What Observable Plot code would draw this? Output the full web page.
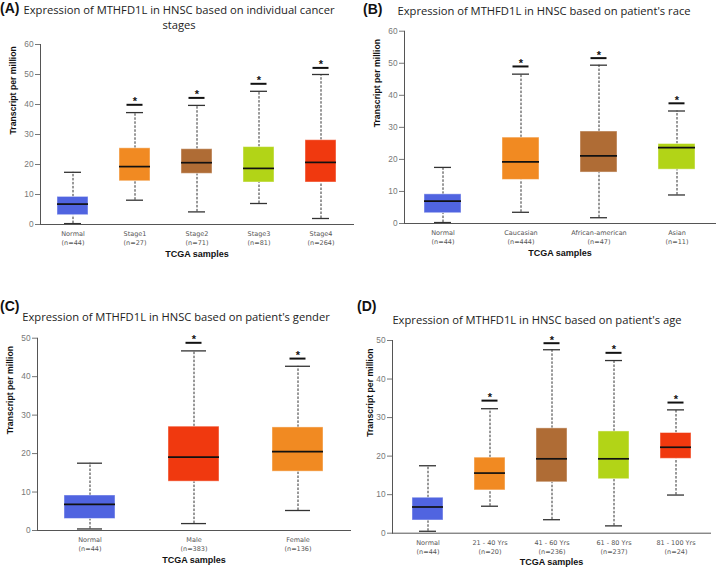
<!DOCTYPE html>
<html><head><meta charset="utf-8">
<script src="https://cdn.jsdelivr.net/npm/d3@7"></script>
<script src="https://cdn.jsdelivr.net/npm/@observablehq/plot@0.6"></script>
<style>
body{margin:0;background:#fff;width:720px;height:576px;position:relative;overflow:hidden;font-family:"Liberation Sans",Arial,sans-serif}
.panel{position:absolute}
.lbl{position:absolute;font-weight:bold;font-size:14px;color:#111;line-height:1}
.title{position:absolute;font-family:"Open Sans",sans-serif;font-size:11.2px;color:#222;text-align:center;white-space:nowrap;line-height:15px;transform:translate(-50%,-50%)}
</style></head><body>
<script>
// ---------- Data ----------
// Panel A: cancer stages
const catsA = ["Normal", "Stage1", "Stage2", "Stage3", "Stage4"];
const nA    = [44, 27, 71, 81, 264];
const lowA  = [0.3, 8.1, 4.2, 7.0, 2.0];
const q1A   = [3.1, 14.4, 16.9, 14.0, 14.0];
const medA  = [6.8, 19.3, 20.6, 18.7, 20.7];
const q3A   = [9.2, 25.4, 25.1, 25.8, 28.1];
const highA = [17.4, 37.3, 39.7, 44.4, 50.0];
const starA = [null, 39.9, 42.2, 46.9, 52.2];

// Panel B: race
const catsB = ["Normal", "Caucasian", "African-american", "Asian"];
const nB    = [44, 444, 47, 11];
const lowB  = [0.3, 3.5, 1.8, 8.9];
const q1B   = [3.2, 13.6, 15.9, 16.8];
const medB  = [7.0, 19.2, 21.1, 23.7];
const q3B   = [9.1, 26.8, 28.7, 24.8];
const highB = [17.5, 46.6, 49.4, 35.1];
const starB = [null, 49.0, 51.6, 37.5];

// Panel C: gender
const catsC = ["Normal", "Male", "Female"];
const nC    = [44, 383, 136];
const lowC  = [0.4, 1.8, 5.2];
const q1C   = [3.0, 12.7, 15.3];
const medC  = [6.8, 19.1, 20.5];
const q3C   = [9.1, 27.0, 26.8];
const highC = [17.5, 46.7, 42.7];
const starC = [null, 48.8, 44.7];

// Panel D: age
const catsD = ["Normal", "21 - 40 Yrs", "41 - 60 Yrs", "61 - 80 Yrs", "81 - 100 Yrs"];
const nD    = [44, 20, 236, 237, 24];
const lowD  = [0.5, 7.0, 3.5, 1.9, 9.9];
const q1D   = [3.3, 11.1, 13.2, 14.0, 19.3];
const medD  = [6.8, 15.6, 19.3, 19.3, 22.3];
const q3D   = [9.2, 19.6, 27.2, 26.4, 26.0];
const highD = [17.5, 32.3, 47.6, 44.8, 32.0];
const starD = [null, 34.4, 49.3, 46.8, 33.9];

const ticks60 = [0, 10, 20, 30, 40, 50, 60];
const ticks50 = [0, 10, 20, 30, 40, 50];

const titleA = "Expression of MTHFD1L in HNSC based on individual cancer<br>stages";
const titleB = "Expression of MTHFD1L in HNSC based on patient's race";
const titleC = "Expression of MTHFD1L in HNSC based on patient's gender";
const titleD = "Expression of MTHFD1L in HNSC based on patient's age";

// palette
const BLUE = "#5064E0", ORANGE = "#F18A22", BROWN = "#AF6C35", LIME = "#B2D417", RED = "#F0390F";

function rowsOf(cats, n, low, q1, med, q3, high, star) {
  return cats.map((c, i) => ({cat: c, n: n[i], low: low[i], q1: q1[i], med: med[i], q3: q3[i], high: high[i], star: star[i]}));
}

function panel(cfg) {
  const rows = cfg.rows;
  const starRows = rows.filter(d => d.star != null);
  const nMap = new Map(rows.map(d => [d.cat, d.n]));
  const cats = rows.map(d => d.cat);
  const chart = Plot.plot({
    width: cfg.width, height: cfg.height,
    marginTop: cfg.mt, marginBottom: cfg.mb, marginLeft: cfg.ml, marginRight: cfg.mr,
    style: {fontFamily: "Liberation Sans, Arial, sans-serif", background: "transparent", overflow: "visible"},
    x: {domain: cats, paddingInner: cfg.pi, paddingOuter: cfg.po, axis: null},
    y: {domain: [0, cfg.ymax], axis: null},
    color: {domain: cats, range: cfg.palette},
    marks: [
      Plot.axisY({ticks: cfg.yticks, tickSize: 5, tickPadding: 2, fontSize: 8.3, stroke: "#777", fill: "#777", label: null}),
      Plot.axisX({tickSize: 0, tickPadding: 5, fontSize: 6.5, fontFamily: "DejaVu Sans, sans-serif", fill: "#555", lineHeight: 1.4,
                  tickFormat: c => c + "\n(n=" + nMap.get(c) + ")", label: null}),
      Plot.ruleX(rows, {x: "cat", y1: "low", y2: "q1", stroke: "#333", strokeDasharray: "2.5,1.5"}),
      Plot.ruleX(rows, {x: "cat", y1: "q3", y2: "high", stroke: "#333", strokeDasharray: "2.5,1.5"}),
      Plot.tickY(rows, {x: "cat", y: "low", inset: cfg.capInset, stroke: "#333", strokeWidth: 1.3}),
      Plot.tickY(rows, {x: "cat", y: "high", inset: cfg.capInset, stroke: "#333", strokeWidth: 1.3}),
      Plot.barY(rows, {x: "cat", y1: "q1", y2: "q3", fill: "cat", stroke: "#fff", strokeOpacity: 0.45}),
      Plot.tickY(rows, {x: "cat", y: "med", stroke: "#111", strokeWidth: 1.7}),
      Plot.tickY(starRows, {x: "cat", y: "star", inset: cfg.starInset, stroke: "#111", strokeWidth: 2}),
      Plot.text(starRows, {x: "cat", y: "star", text: () => "*", fontSize: 11, fontWeight: "bold", fill: "#111", dy: -3}),
      Plot.frame({anchor: "left", stroke: "#555"}),
      Plot.frame({anchor: "bottom", stroke: "#555"}),
      Plot.text(["TCGA samples"], {text: d => d, frameAnchor: "bottom", dy: 32, fontWeight: "bold", fontSize: 9, fill: "#111"}),
      Plot.text(["Transcript per million"], {text: d => d, frameAnchor: "left", dx: cfg.ylabDx, rotate: -90, fontWeight: "bold", fontSize: 8.7, fill: "#111"})
    ]
  });
  const wrap = document.createElement("div");
  wrap.className = "panel";
  wrap.style.left = cfg.left + "px";
  wrap.style.top = cfg.top + "px";
  wrap.appendChild(chart);
  document.body.appendChild(wrap);

  const t = document.createElement("div");
  t.className = "title";
  t.style.left = cfg.tx + "px";
  t.style.top = cfg.ty + "px";
  t.innerHTML = cfg.title;
  document.body.appendChild(t);

  const l = document.createElement("div");
  l.className = "lbl";
  l.style.left = cfg.lx + "px";
  l.style.top = cfg.ly + "px";
  l.textContent = cfg.label;
  document.body.appendChild(l);
}

panel({rows: rowsOf(catsA, nA, lowA, q1A, medA, q3A, highA, starA), palette: [BLUE, ORANGE, BROWN, LIME, RED],
  left: 0, top: 30, width: 360, height: 240, mt: 14, mb: 46, ml: 40, mr: 7, ymax: 60, yticks: ticks60,
  pi: 0.5, po: 0.25, capInset: 7, starInset: 7.5, ylabDx: -27,
  title: titleA, tx: 179, ty: 16.5, label: "(A)", lx: 0, ly: 1});

panel({rows: rowsOf(catsB, nB, lowB, q1B, medB, q3B, highB, starB), palette: [BLUE, ORANGE, BROWN, LIME],
  left: 360, top: 16, width: 360, height: 254, mt: 14.7, mb: 47, ml: 44, mr: 5, ymax: 60, yticks: ticks60,
  pi: 0.53, po: 0.24, capInset: 10, starInset: 10.5, ylabDx: -27,
  title: titleB, tx: 544, ty: 10, label: "(B)", lx: 363, ly: 2});

panel({rows: rowsOf(catsC, nC, lowC, q1C, medC, q3C, highC, starC), palette: [BLUE, RED, ORANGE],
  left: 0, top: 324, width: 360, height: 252, mt: 13.7, mb: 46, ml: 37, mr: 10, ymax: 50, yticks: ticks50,
  pi: 0.51, po: 0.255, capInset: 13, starInset: 17.5, ylabDx: -27,
  title: titleC, tx: 176, ty: 316, label: "(C)", lx: 0, ly: 299});

panel({rows: rowsOf(catsD, nD, lowD, q1D, medD, q3D, highD, starD), palette: [BLUE, ORANGE, BROWN, LIME, RED],
  left: 360, top: 326, width: 360, height: 250, mt: 14, mb: 43.3, ml: 32, mr: 10, ymax: 50, yticks: ticks50,
  pi: 0.5, po: 0.3, capInset: 7, starInset: 7.5, ylabDx: -22,
  title: titleD, tx: 537, ty: 319, label: "(D)", lx: 357, ly: 299});
</script>
</body></html>
